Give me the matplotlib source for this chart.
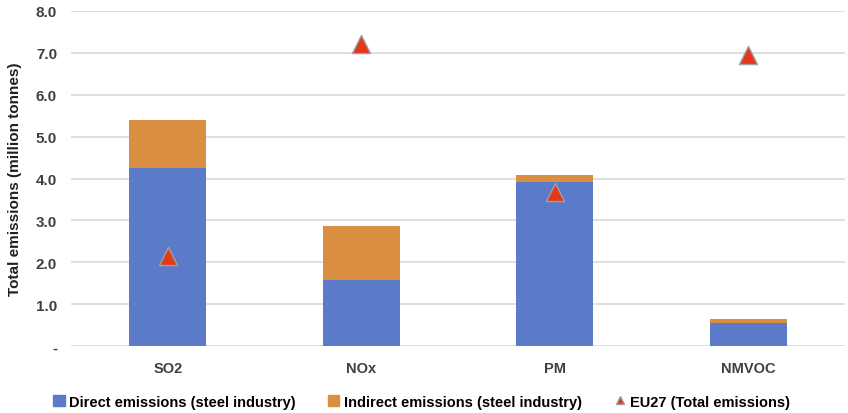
import matplotlib
matplotlib.use('Agg')
import matplotlib.pyplot as plt
import numpy as np
from matplotlib.lines import Line2D
from matplotlib.patches import Patch

# 排放数据（百万吨）
pollutants = ['SO2', 'NOx', 'PM', 'NMVOC']
direct = [4.26, 1.58, 3.92, 0.56]
indirect = [1.14, 1.28, 0.16, 0.08]
eu27_total = [2.15, 7.22, 3.67, 6.94]

y_ticks = [0, 1, 2, 3, 4, 5, 6, 7, 8]
y_tick_labels = ['-', '1.0', '2.0', '3.0', '4.0', '5.0', '6.0', '7.0', '8.0']

blue = '#5B7BC8'
orange = '#DA8E42'
red = '#E2391C'

plt.rcParams['font.family'] = ['Liberation Sans', 'DejaVu Sans']

fig = plt.figure(figsize=(8.48, 4.14), dpi=100)
ax = fig.add_axes([71 / 848, 1 - 347 / 414, 774 / 848, 335 / 414])

x = np.arange(len(pollutants))
ax.bar(x, direct, width=0.4, color=blue, zorder=2)
ax.bar(x, indirect, width=0.4, bottom=direct, color=orange, zorder=2)
ax.scatter(x, eu27_total, marker='^', s=170, color=red, edgecolors='#A0A0A0',
           linewidths=1.0, zorder=3)

ax.set_xlim(-0.5, len(pollutants) - 0.5)
ax.set_ylim(0, 8)
ax.set_yticks(y_ticks)
ax.set_yticklabels(y_tick_labels, fontsize=11, fontweight='bold', color='#404040')
ax.set_xticks(x)
ax.set_xticklabels(pollutants, fontsize=10.5, fontweight='bold', color='#404040')
ax.tick_params(length=0, pad=11)
ax.tick_params(axis='y', pad=10)
ax.grid(axis='y', color='#D9D9D9', linewidth=1.2, zorder=0)
for s in ax.spines.values():
    s.set_visible(False)

ax.set_ylabel('Total emissions (million tonnes)', fontsize=11, fontweight='bold',
              color='#202020', labelpad=10)

handles = [
    Patch(color=blue, label='Direct emissions (steel industry)'),
    Patch(color=orange, label='Indirect emissions (steel industry)'),
    Line2D([], [], marker='^', linestyle='none', color=red, markeredgecolor='#A0A0A0',
           markersize=6, label='EU27 (Total emissions)'),
]
fig.legend(handles=handles, loc='center', bbox_to_anchor=(0.497, 0.027), ncol=3,
           frameon=False, handlelength=0.8, handleheight=0.8,
           handletextpad=0.3, columnspacing=2.2,
           prop={'weight': 'bold', 'size': 10.5})

fig.savefig('out.png', dpi=100)
